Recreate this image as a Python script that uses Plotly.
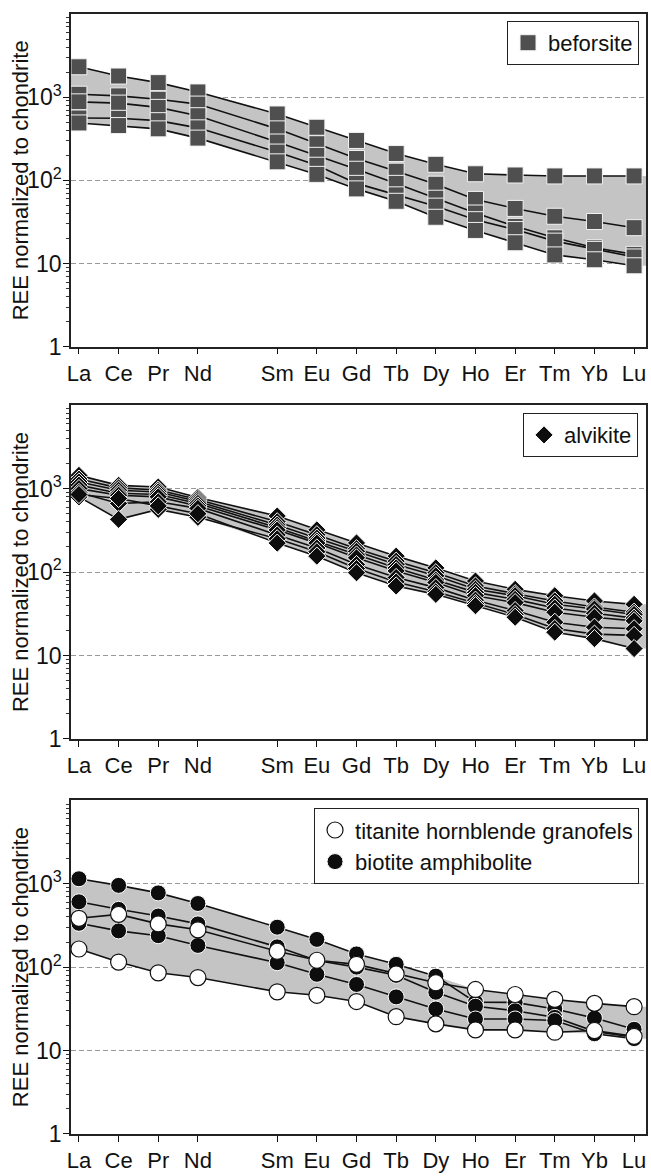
import plotly.graph_objects as go

# ---------------- data ----------------
ree_all = ["La", "Ce", "Pr", "Nd", "Pm", "Sm", "Eu", "Gd", "Tb", "Dy", "Ho", "Er", "Tm", "Yb", "Lu"]
elements = ["La", "Ce", "Pr", "Nd", "Sm", "Eu", "Gd", "Tb", "Dy", "Ho", "Er", "Tm", "Yb", "Lu"]

# beforsite (panel 1)
bef_1 = [2320, 1795, 1496, 1156, 628, 435, 302, 210, 156, 120, 116, 113, 113, 113]
bef_2 = [1086, 1037, 946, 826, 416, 276, 183, 129, 90, 59, 46, 37, 32, 27]
bef_3 = [879, 849, 754, 599, 289, 200, 136, 92, 61, 40.5, 28, 20.4, 15.5, 12.9]
bef_4 = [562, 557, 522, 428, 219, 152, 92, 67, 49, 33.7, 25.6, 18.6, 14.8, 12.0]
bef_5 = [490, 456, 416, 322, 167, 118, 79, 56, 36, 25, 17.8, 12.7, 11.1, 9.4]

# alvikite (panel 2)
alv_1 = [1440, 1094, 1045, 780, 469, 320, 223, 155, 112, 78, 62, 52, 45, 41]
alv_2 = [1300, 1020, 960, 740, 400, 280, 190, 135, 98, 68, 55, 45, 38, 33]
alv_3 = [1200, 955, 912, 700, 366, 255, 177, 123, 90, 62, 52, 41, 36, 31]
alv_4 = [1100, 880, 850, 664, 340, 235, 160, 112, 80, 57, 47, 37, 32, 28]
alv_5 = [1000, 833, 796, 620, 319, 222, 148, 103, 75, 52, 43, 33, 28.7, 26]
alv_6 = [900, 664, 694, 579, 278, 194, 123, 86, 65, 46, 34.5, 25, 21.8, 20.9]
alv_7 = [795, 428, 563, 453, 250, 175, 110, 76, 58, 42, 31, 21, 18, 17.4]
alv_8 = [850, 760, 620, 500, 222, 155, 98, 68, 54, 39.5, 28.7, 19, 15.9, 12.1]

# titanite hornblende granofels (white circles, panel 3)
thg_1 = [385, 429, 330, 280, 155, 121, 108, 83, 65, 54, 47, 41, 36.8, 33.6]
thg_2 = [165, 115, 85.5, 75, 50.6, 46, 38.7, 25.5, 20.9, 17.7, 17.7, 16.6, 17.4, 14.8]

# biotite amphibolite (black circles, panel 3)
bam_1 = [1146, 955, 776, 579, 301, 215, 144, 108, 78, 38, 37.8, 31.5, 24.5, 18]
bam_2 = [607, 493, 410, 330, 175, 120, 100, 80, 50, 34, 30, 25, 17, 14.5]
bam_3 = [335, 272, 238, 182, 113, 82, 62, 44, 31.5, 23.9, 23.9, 22.9, 15.9, 13.9]

y_tick_vals = [1, 10, 100, 1000]
y_tick_text = ["1", "10", "10<sup>2</sup>", "10<sup>3</sup>"]
y_title = "REE normalized to chondrite"

# ---------------- figure ----------------
xs = [ree_all.index(e) for e in elements]
x_range = [-0.2, 14.3]
FONT = "Liberation Sans, Arial, sans-serif"

fig = go.Figure()

panels = [
    dict(ax="", samples=[bef_1, bef_2, bef_3, bef_4, bef_5]),
    dict(ax="2", samples=[alv_1, alv_2, alv_3, alv_4, alv_5, alv_6, alv_7, alv_8]),
    dict(ax="3", samples=[thg_1, thg_2, bam_1, bam_2, bam_3]),
]

for p in panels:
    s = p["samples"]
    upper = [max(v[i] for v in s) for i in range(len(xs))]
    lower = [min(v[i] for v in s) for i in range(len(xs))]
    px = [x_range[0]] + xs + [x_range[1]]
    pu = [upper[0]] + upper + [upper[-1]]
    pl = [lower[0]] + lower + [lower[-1]]
    fig.add_trace(go.Scatter(
        x=px + px[::-1], y=pu + pl[::-1], fill="toself", mode="none",
        fillcolor="#c4c4c4", showlegend=False, hoverinfo="skip",
        xaxis="x" + p["ax"], yaxis="y" + p["ax"]))
    for v in s:
        fig.add_trace(go.Scatter(
            x=xs, y=v, mode="lines", line=dict(color="#111111", width=1.6),
            showlegend=False, hoverinfo="skip",
            xaxis="x" + p["ax"], yaxis="y" + p["ax"]))

def add_markers(samples, ax, name, legend, marker):
    for k, v in enumerate(samples):
        fig.add_trace(go.Scatter(
            x=xs, y=v, mode="markers", marker=marker, name=name,
            legendgroup=name, showlegend=(k == 0), legend=legend,
            xaxis="x" + ax, yaxis="y" + ax))

add_markers([bef_1, bef_2, bef_3, bef_4, bef_5], "", "beforsite", "legend",
            dict(symbol="square", size=16, color="#4f4f4f", line=dict(color="#f2f2f2", width=1)))
add_markers([alv_1, alv_2, alv_3, alv_4, alv_5, alv_6, alv_7, alv_8], "2", "alvikite", "legend2",
            dict(symbol="diamond", size=14, color="#0d0d0d", line=dict(color="#ffffff", width=1)))
add_markers([bam_1, bam_2, bam_3], "3", "biotite amphibolite", "legend3",
            dict(symbol="circle", size=16, color="#0d0d0d", line=dict(color="#ffffff", width=1)))
add_markers([thg_1, thg_2], "3", "titanite hornblende granofels", "legend3",
            dict(symbol="circle", size=16, color="#ffffff", line=dict(color="#111111", width=1.2)))

H = 1176
top, bot = 14, 31
ph = H - top - bot

def dom(y_top_px, y_bot_px):
    return [(H - bot - y_bot_px) / ph, (H - bot - y_top_px) / ph]

ydoms = [dom(14, 350), dom(409, 746), dom(808, 1145)]

minor_vals = [k * 10 ** e for e in range(0, 4) for k in range(2, 10)]

for i, p in enumerate(panels):
    ax = p["ax"]
    fig.update_layout(**{
        "xaxis" + ax: dict(
            domain=[0, 1], anchor="y" + ax, range=x_range,
            tickmode="array", tickvals=xs, ticktext=elements,
            ticks="outside", ticklen=6, tickwidth=1.3, tickcolor="#111",
            showline=True, linecolor="#222", linewidth=1.5, mirror=True,
            showgrid=False, zeroline=False,
            tickfont=dict(family=FONT, size=22, color="#111"),
        ),
        "yaxis" + ax: dict(
            domain=ydoms[i], anchor="x" + ax, type="log", range=[0, 4],
            tickmode="array", tickvals=y_tick_vals, ticktext=y_tick_text,
            ticks="outside", ticklen=6, tickwidth=1.3, tickcolor="#111",
            ticklabelstandoff=-3,
            minor=dict(tickmode="array", tickvals=minor_vals, ticks="outside",
                       ticklen=3, tickwidth=1, tickcolor="#333", showgrid=False),
            showline=True, linecolor="#222", linewidth=1.5, mirror=True,
            showgrid=True, gridcolor="#9a9a9a", gridwidth=1, griddash="5px,3px",
            zeroline=False,
            tickfont=dict(family=FONT, size=23, color="#111"),
        ),
    })
    fig.add_annotation(
        text=y_title, textangle=-90, showarrow=False,
        xref="paper", x=0, xshift=-51, xanchor="center",
        yref="paper", y=sum(ydoms[i]) / 2, yanchor="middle",
        font=dict(family=FONT, size=22, color="#111"))

leg_common = dict(bgcolor="white", bordercolor="#222", borderwidth=1,
                  font=dict(family=FONT, size=22, color="#111"),
                  xanchor="right", yanchor="top", tracegroupgap=0,
                  itemwidth=30)

pw = 651 - 71 - 3
def lx(px_right):
    return (px_right - 71) / pw
def ly(px_top):
    return (H - bot - px_top) / ph

fig.update_layout(
    width=651, height=1176,
    margin=dict(l=71, r=3, t=top, b=bot),
    paper_bgcolor="white", plot_bgcolor="white",
    font=dict(family=FONT, color="#111"),
    legend=dict(x=lx(641), y=ly(21), **leg_common),
    legend2=dict(x=lx(640), y=ly(417), **leg_common),
    legend3=dict(x=lx(641), y=ly(816), traceorder="reversed", **leg_common),
)

fig.write_html(
    "out.html",
    config={"displayModeBar": False},
    post_script="document.body.style.margin='0';document.body.style.overflow='hidden';",
)
